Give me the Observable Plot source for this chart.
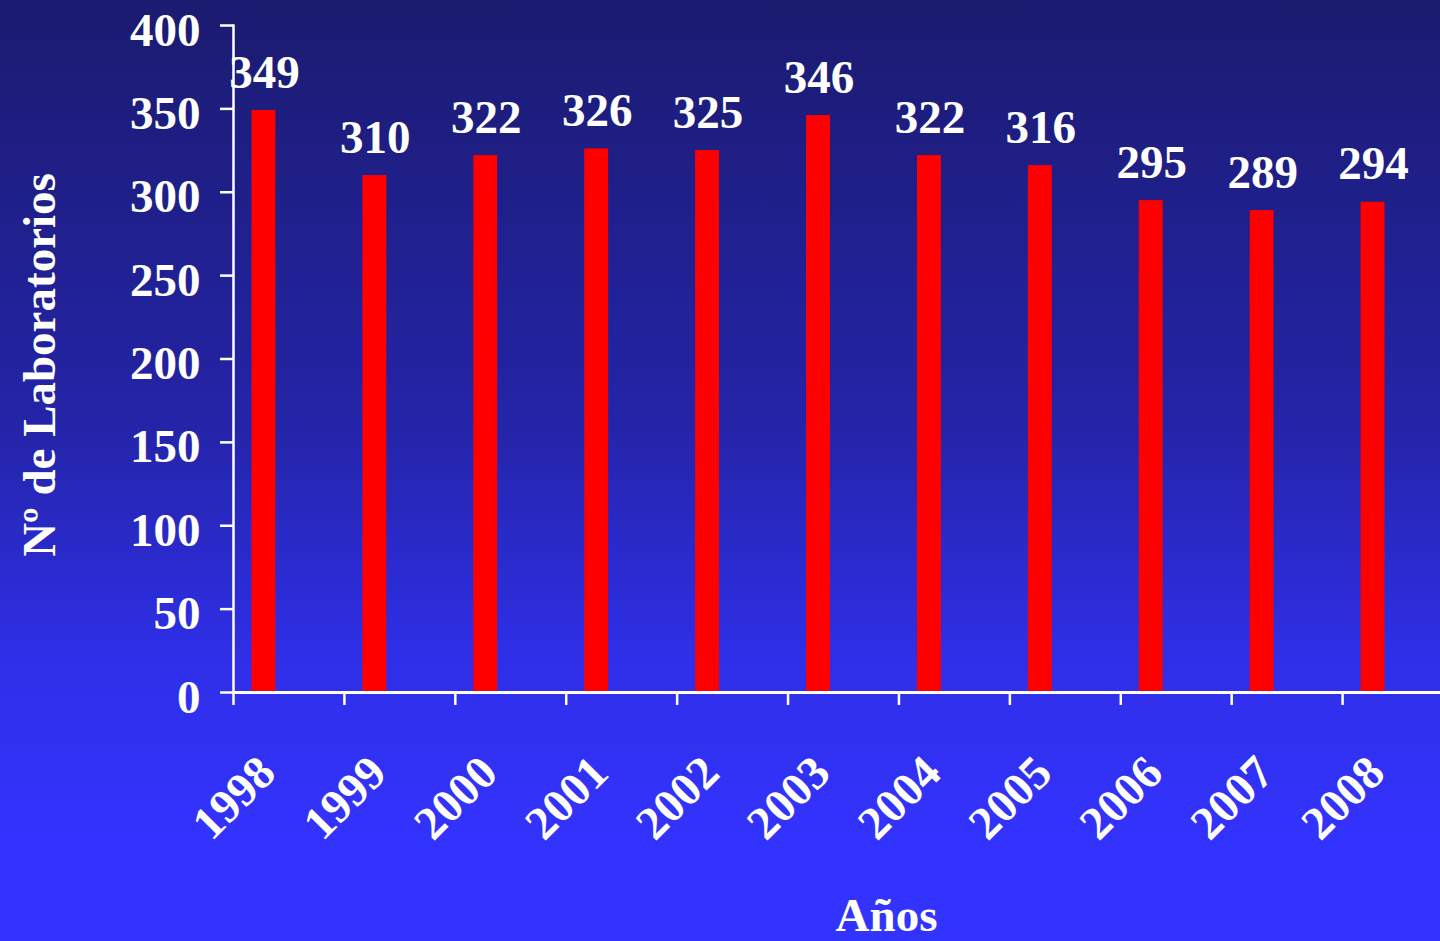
<!DOCTYPE html>
<html>
<head>
<meta charset="utf-8">
<script src="https://cdn.jsdelivr.net/npm/d3@7"></script>
<script src="https://cdn.jsdelivr.net/npm/@observablehq/plot@0.6"></script>
<style>
  html, body { margin: 0; padding: 0; overflow: hidden; width: 1440px; height: 941px; }
  body { background: linear-gradient(to bottom, #1b1b70 0%, #2424a8 45%, #2f2fe8 70%, #3333ff 90%, #3333ff 100%); }
  #chart { width: 1440px; height: 941px; overflow: hidden; }
  #chart svg { display: block; background: transparent; max-width: none !important; width: 1453px; height: 941px; }
</style>
</head>
<body>
<div id="chart"></div>
<script>
const years = ["1998","1999","2000","2001","2002","2003","2004","2005","2006","2007","2008"];
const values = [349, 310, 322, 326, 325, 346, 322, 316, 295, 289, 294];
const yTicks = [0, 50, 100, 150, 200, 250, 300, 350, 400];
const yTitle = "Nº de Laboratorios";
const xTitle = "Años";

const data = years.map((y, i) => ({year: y, value: values[i]}));
const font = {fontSize: 47, fontWeight: "bold", fill: "white"};

const chart = Plot.plot({
  width: 1453,
  height: 941,
  marginLeft: 233,
  marginRight: 0,
  marginTop: 25,
  marginBottom: 249,
  style: {fontFamily: "'Liberation Serif', 'Times New Roman', serif", fontWeight: "bold", color: "white", background: "transparent", maxWidth: "none"},
  x: {domain: years, padding: 0, round: false, axis: null},
  y: {domain: [0, 400], axis: null},
  marks: [
    Plot.barY(data, {x: "year", y: "value", fill: "#ff0000", insetLeft: 18.5, insetRight: 68.5}),
    Plot.text(data, {x: "year", y: "value", text: d => String(d.value), dx: -24.5, dy: -23, lineAnchor: "bottom", ...font}),
    Plot.axisY({ticks: yTicks, tickSize: 13, tickFormat: () => "", strokeWidth: 2.5, label: null}),
    Plot.axisY({ticks: yTicks, tickSize: 0, tickPadding: 33, fontSize: 47, fontWeight: "bold", dy: 5, label: null}),
    Plot.frame({anchor: "left", stroke: "white", strokeWidth: 2.5}),
    Plot.ruleY([0], {stroke: "white", strokeWidth: 3}),
    Plot.ruleX(years, {x: d => d, y1: 0, y2: -7.8, dx: -55.45, stroke: "white", strokeWidth: 2.5}),
    Plot.text(years, {x: d => d, frameAnchor: "bottom", rotate: -45, textAnchor: "end", lineAnchor: "bottom", dx: -11, dy: 83, ...font}),
    Plot.text([yTitle], {frameAnchor: "left", rotate: -90, dx: -194, dy: 6, textAnchor: "middle", lineAnchor: "middle", ...font}),
    Plot.text([xTitle], {frameAnchor: "bottom", dx: 43, dy: 238, textAnchor: "middle", lineAnchor: "bottom", ...font})
  ]
});
document.getElementById("chart").appendChild(chart);
</script>
</body>
</html>
